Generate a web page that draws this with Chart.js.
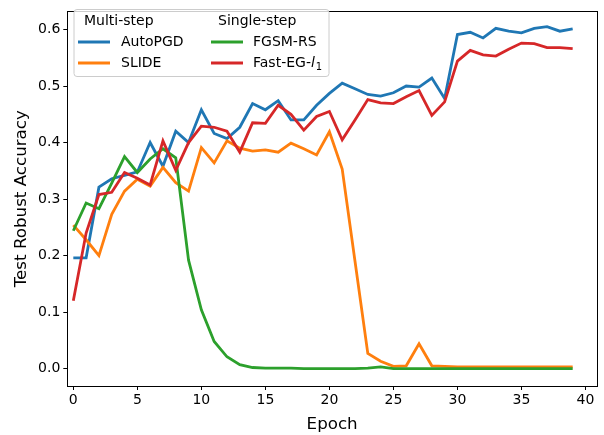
<!DOCTYPE html>
<html>
<head>
<meta charset="utf-8">
<script src="https://cdn.jsdelivr.net/npm/chart.js@4.4.1/dist/chart.umd.min.js"></script>
<style>
  body { margin: 0; background: #fff; }
  #wrap { width: 604px; height: 435px; position: relative; }
</style>
</head>
<body>
<div id="wrap"><canvas id="chart"></canvas></div>
<script>
const epochs = [0, 1, 2, 3, 4, 5, 6, 7, 8, 9, 10, 11, 12, 13, 14, 15, 16, 17, 18, 19,
  20, 21, 22, 23, 24, 25, 26, 27, 28, 29, 30, 31, 32, 33, 34, 35, 36, 37, 38, 39];

const autoPGD = [0.196, 0.196, 0.321, 0.336, 0.342, 0.348, 0.400, 0.358, 0.420, 0.400,
  0.458, 0.416, 0.407, 0.427, 0.469, 0.458, 0.474, 0.440, 0.440, 0.466,
  0.487, 0.505, 0.495, 0.485, 0.482, 0.488, 0.500, 0.498, 0.514, 0.478,
  0.591, 0.595, 0.585, 0.602, 0.597, 0.594, 0.602, 0.605, 0.597, 0.601];

const slide = [0.254, 0.228, 0.200, 0.273, 0.314, 0.335, 0.323, 0.356, 0.329, 0.314,
  0.391, 0.364, 0.403, 0.390, 0.385, 0.387, 0.383, 0.399, 0.389, 0.378,
  0.419, 0.353, 0.190, 0.027, 0.013, 0.004, 0.005, 0.044, 0.005, 0.004,
  0.003, 0.003, 0.003, 0.003, 0.003, 0.003, 0.003, 0.003, 0.003, 0.003];

const fgsmRS = [0.244, 0.293, 0.283, 0.328, 0.375, 0.347, 0.371, 0.389, 0.373, 0.192,
  0.104, 0.048, 0.021, 0.007, 0.002, 0.001, 0.001, 0.001, 0.000, 0.000,
  0.000, 0.000, 0.000, 0.001, 0.003, 0.000, 0.000, 0.000, 0.000, 0.000,
  0.000, 0.000, 0.000, 0.000, 0.000, 0.000, 0.000, 0.000, 0.000, 0.000];

const fastEG = [0.120, 0.240, 0.308, 0.312, 0.347, 0.337, 0.325, 0.403, 0.351, 0.400,
  0.429, 0.427, 0.420, 0.383, 0.435, 0.434, 0.466, 0.450, 0.422, 0.446,
  0.455, 0.405, 0.440, 0.476, 0.470, 0.469, 0.481, 0.492, 0.448, 0.472,
  0.544, 0.563, 0.555, 0.553, 0.565, 0.576, 0.575, 0.568, 0.568, 0.566];

const xTicks = [0, 5, 10, 15, 20, 25, 30, 35, 40];
const yTicks = [0.0, 0.1, 0.2, 0.3, 0.4, 0.5, 0.6];

const seriesNames = ['AutoPGD', 'SLIDE', 'FGSM-RS', 'Fast-EG-l1'];
const seriesColors = ['#1f77b4', '#ff7f0e', '#2ca02c', '#d62728'];
const seriesValues = [autoPGD, slide, fgsmRS, fastEG];
const legendGroups = ['Multi-step', 'Single-step'];

const FONT = "'DejaVu Sans', sans-serif";

function points(vals) {
  return vals.map((v, i) => ({ x: epochs[i], y: v }));
}

// frame round the plot + the two-column legend with group headers
const framePlugin = {
  id: 'frame',
  afterDraw(chart) {
    const ctx = chart.ctx;
    const a = chart.chartArea;
    ctx.save();
    ctx.strokeStyle = '#000';
    ctx.lineWidth = 1;
    ctx.strokeRect(Math.round(a.left) + 0.5, Math.round(a.top) + 0.5,
      Math.round(a.right - a.left), Math.round(a.bottom - a.top));

    // legend box
    const bx = 74, by = 9.5, bw = 255, bh = 67;
    ctx.beginPath();
    ctx.roundRect(bx, by, bw, bh, 3);
    ctx.fillStyle = 'rgba(255,255,255,0.8)';
    ctx.fill();
    ctx.strokeStyle = '#cccccc';
    ctx.lineWidth = 1;
    ctx.stroke();

    ctx.font = '14px ' + FONT;
    ctx.fillStyle = '#000';
    ctx.textBaseline = 'middle';
    const colX = [84, 218];
    const rowY = [21, 42, 63];
    ctx.textAlign = 'left';
    ctx.fillText(legendGroups[0], colX[0], rowY[0]);
    ctx.fillText(legendGroups[1], colX[1], rowY[0]);

    const lineX = [78, 211];
    const textX = [121, 253];
    chart.data.datasets.forEach((ds, i) => {
      const col = i < 2 ? 0 : 1;
      const row = 1 + (i % 2);
      const y = rowY[row];
      ctx.beginPath();
      ctx.moveTo(lineX[col], y);
      ctx.lineTo(lineX[col] + 32, y);
      ctx.strokeStyle = ds.borderColor;
      ctx.lineWidth = 3;
      ctx.stroke();
      ctx.fillStyle = '#000';
      ctx.font = '14px ' + FONT;
      if (ds.label === 'Fast-EG-l1') {
        const head = 'Fast-EG-';
        ctx.fillText(head, textX[col], y);
        let x = textX[col] + ctx.measureText(head).width;
        ctx.font = 'italic 14px ' + FONT;
        ctx.fillText('l', x, y);
        x += ctx.measureText('l').width + 1;
        ctx.font = '10px ' + FONT;
        ctx.fillText('1', x, y + 4);
      } else {
        ctx.fillText(ds.label, textX[col], y);
      }
    });
    ctx.restore();
  }
};

new Chart(document.getElementById('chart'), {
  type: 'line',
  data: {
    datasets: seriesValues.map((vals, i) => ({
      label: seriesNames[i],
      data: points(vals),
      borderColor: seriesColors[i],
      backgroundColor: seriesColors[i],
      borderWidth: 2.8,
      pointRadius: 0,
      tension: 0,
      fill: false,
      order: 4 - i
    }))
  },
  options: {
    responsive: true,
    maintainAspectRatio: false,
    animation: false,
    layout: { padding: { left: 0, top: 5, right: 7, bottom: 0 } },
    plugins: {
      legend: { display: false },
      tooltip: { enabled: false }
    },
    scales: {
      x: {
        type: 'linear',
        min: -0.47,
        max: 40.9,
        afterBuildTicks: s => { s.ticks = xTicks.map(v => ({ value: v })); },
        afterFit: s => { s.height = 49; },
        grid: { drawOnChartArea: false, drawTicks: true, tickLength: 4, color: '#000' },
        border: { display: true, color: '#000' },
        ticks: { font: { family: FONT, size: 14 }, color: '#000', padding: 2, maxRotation: 0 },
        title: { display: true, text: 'Epoch', font: { family: FONT, size: 16.7 }, color: '#000', padding: 0 }
      },
      y: {
        min: -0.0307,
        max: 0.632,
        afterBuildTicks: s => { s.ticks = yTicks.map(v => ({ value: v })); },
        afterFit: s => { s.width = 67.3; },
        grid: { drawOnChartArea: false, drawTicks: true, tickLength: 4, color: '#000' },
        border: { display: true, color: '#000' },
        ticks: { font: { family: FONT, size: 14 }, color: '#000', padding: 3,
          callback: v => v.toFixed(1) },
        title: { display: true, text: 'Test Robust Accuracy', font: { family: FONT, size: 16.7 }, color: '#000',
          padding: { top: 12, bottom: 0 } }
      }
    }
  },
  plugins: [framePlugin]
});
</script>
</body>
</html>
